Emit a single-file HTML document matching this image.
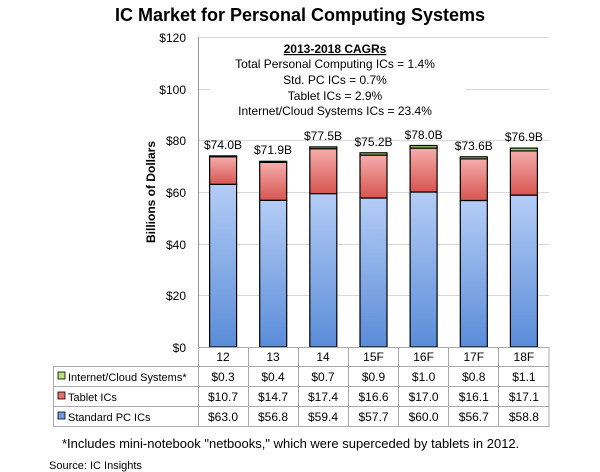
<!DOCTYPE html>
<html><head><meta charset="utf-8"><style>
body{margin:0;background:#fff}
svg{display:block;font-family:"Liberation Sans",sans-serif}
</style></head><body>
<svg width="600" height="472" viewBox="0 0 600 472">
<defs>
<linearGradient id="b" x1="0" y1="0" x2="0" y2="1"><stop offset="0" stop-color="#b4cdf6"/><stop offset="1" stop-color="#5a8cd8"/></linearGradient>
<linearGradient id="r" x1="0" y1="0" x2="0" y2="1"><stop offset="0" stop-color="#f5adac"/><stop offset="1" stop-color="#d75550"/></linearGradient>
</defs>
<text x="300" y="21" text-anchor="middle" font-size="18" font-weight="bold">IC Market for Personal Computing Systems</text>
<g stroke="#d9d9d9" stroke-width="1">
<line x1="198" y1="37.5" x2="549" y2="37.5"/><line x1="198" y1="89.5" x2="549" y2="89.5"/><line x1="198" y1="140.5" x2="549" y2="140.5"/><line x1="198" y1="192.5" x2="549" y2="192.5"/><line x1="198" y1="244.5" x2="549" y2="244.5"/><line x1="198" y1="295.5" x2="549" y2="295.5"/>
</g>
<rect x="210" y="40" width="255" height="82" fill="#fff"/>
<line x1="198.5" y1="37" x2="198.5" y2="347" stroke="#999"/>
<g font-size="12" text-anchor="end">
<text x="186" y="42">$120</text><text x="186" y="94">$100</text><text x="186" y="145">$80</text><text x="186" y="197">$60</text><text x="186" y="249">$40</text><text x="186" y="300">$20</text><text x="186" y="352">$0</text>
</g>
<text transform="translate(155,192) rotate(-90)" text-anchor="middle" font-size="12" font-weight="bold">Billions of Dollars</text>
<g text-anchor="middle" font-size="12">
<text x="335" y="53" font-weight="bold" text-decoration="underline">2013-2018 CAGRs</text>
<text x="335" y="68">Total Personal Computing ICs = 1.4%</text>
<text x="335" y="84">Std. PC ICs = 0.7%</text>
<text x="335" y="100">Tablet ICs = 2.9%</text>
<text x="335" y="115">Internet/Cloud Systems ICs = 23.4%</text>
</g>
<g stroke="#000" stroke-width="1.2">
<rect x="209.6" y="184.3" width="27" height="162.7" fill="url(#b)"/><rect x="209.6" y="156.7" width="27" height="27.6" fill="url(#r)"/><rect x="209.6" y="155.9" width="27" height="0.8" fill="#9c6"/>
<rect x="259.7" y="200.3" width="27" height="146.7" fill="url(#b)"/><rect x="259.7" y="162.3" width="27" height="38" fill="url(#r)"/><rect x="259.7" y="161.3" width="27" height="1" fill="#9c6"/>
<rect x="309.8" y="193.6" width="27" height="153.4" fill="url(#b)"/><rect x="309.8" y="148.7" width="27" height="44.9" fill="url(#r)"/><rect x="309.8" y="146.9" width="27" height="1.8" fill="#9c6"/>
<rect x="360" y="198" width="27" height="149" fill="url(#b)"/><rect x="360" y="155.1" width="27" height="42.9" fill="url(#r)"/><rect x="360" y="152.8" width="27" height="2.3" fill="#9c6"/>
<rect x="410.1" y="192" width="27" height="155" fill="url(#b)"/><rect x="410.1" y="148.1" width="27" height="43.9" fill="url(#r)"/><rect x="410.1" y="145.5" width="27" height="2.6" fill="#9c6"/>
<rect x="460.3" y="200.5" width="27" height="146.5" fill="url(#b)"/><rect x="460.3" y="158.9" width="27" height="41.6" fill="url(#r)"/><rect x="460.3" y="156.8" width="27" height="2.1" fill="#9c6"/>
<rect x="510.4" y="195.1" width="27" height="151.9" fill="url(#b)"/><rect x="510.4" y="150.9" width="27" height="44.2" fill="url(#r)"/><rect x="510.4" y="148.1" width="27" height="2.8" fill="#9c6"/>
</g>
<g text-anchor="middle" font-size="12">
<text x="223" y="149">$74.0B</text><text x="273" y="154">$71.9B</text><text x="323" y="140">$77.5B</text><text x="373.5" y="146">$75.2B</text><text x="423.6" y="139">$78.0B</text><text x="473.8" y="150">$73.6B</text><text x="523.9" y="141">$76.9B</text>
</g>
<g stroke="#aaa" stroke-width="1" fill="none">
<line x1="198" y1="347.5" x2="549" y2="347.5"/>
<rect x="53.5" y="366.5" width="495.5" height="60"/>
<line x1="53.5" y1="386.5" x2="549" y2="386.5"/><line x1="53.5" y1="406.5" x2="549" y2="406.5"/>
<line x1="198.5" y1="347" x2="198.5" y2="427"/><line x1="248.5" y1="347" x2="248.5" y2="427"/><line x1="298.5" y1="347" x2="298.5" y2="427"/><line x1="348.5" y1="347" x2="348.5" y2="427"/><line x1="398.5" y1="347" x2="398.5" y2="427"/><line x1="448.5" y1="347" x2="448.5" y2="427"/><line x1="498.5" y1="347" x2="498.5" y2="427"/><line x1="549" y1="347" x2="549" y2="427"/>
</g>
<g stroke="#000" stroke-width="0.8">
<rect x="58" y="372" width="7" height="7" fill="#b5e07c"/><rect x="58" y="392" width="7" height="7" fill="#e8706c"/><rect x="58" y="412" width="7" height="7" fill="#6f9de0"/>
</g>
<g font-size="11">
<text x="68" y="381">Internet/Cloud Systems*</text><text x="68" y="401">Tablet ICs</text><text x="68" y="421">Standard PC ICs</text>
</g>
<g text-anchor="middle" font-size="12">
<text x="223" y="361">12</text><text x="273" y="361">13</text><text x="323" y="361">14</text><text x="373.5" y="361">15F</text><text x="423.6" y="361">16F</text><text x="473.8" y="361">17F</text><text x="523.9" y="361">18F</text>
<text x="223" y="381">$0.3</text><text x="273" y="381">$0.4</text><text x="323" y="381">$0.7</text><text x="373.5" y="381">$0.9</text><text x="423.6" y="381">$1.0</text><text x="473.8" y="381">$0.8</text><text x="523.9" y="381">$1.1</text>
<text x="223" y="401">$10.7</text><text x="273" y="401">$14.7</text><text x="323" y="401">$17.4</text><text x="373.5" y="401">$16.6</text><text x="423.6" y="401">$17.0</text><text x="473.8" y="401">$16.1</text><text x="523.9" y="401">$17.1</text>
<text x="223" y="421">$63.0</text><text x="273" y="421">$56.8</text><text x="323" y="421">$59.4</text><text x="373.5" y="421">$57.7</text><text x="423.6" y="421">$60.0</text><text x="473.8" y="421">$56.7</text><text x="523.9" y="421">$58.8</text>
</g>
<text x="62" y="448" font-size="13">*Includes mini-notebook "netbooks," which were superceded by tablets in 2012.</text>
<text x="49" y="469" font-size="11">Source: IC Insights</text>
</svg>
</body></html>
